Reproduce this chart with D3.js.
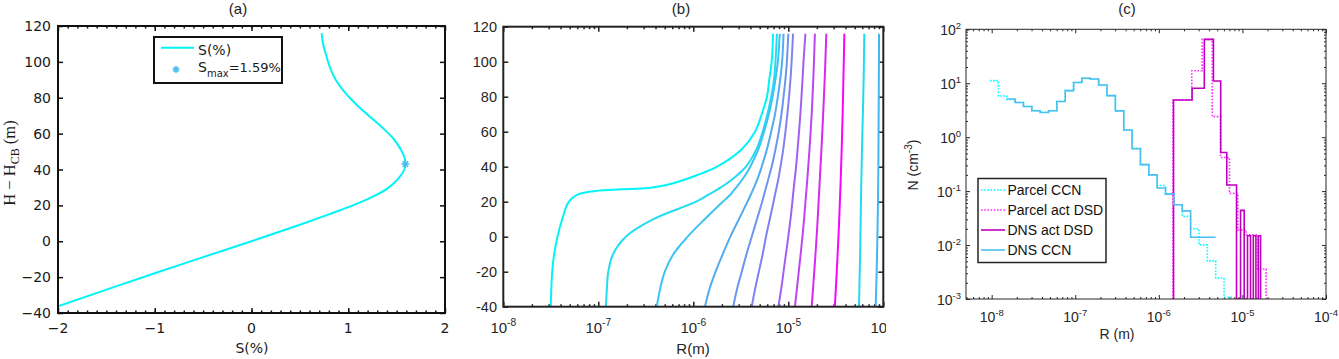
<!DOCTYPE html>
<html>
<head>
<meta charset="utf-8">
<script src="https://cdn.jsdelivr.net/npm/d3@7"></script>
<style>
  body { margin: 0; background: #fff; }
  svg { display: block; }
</style>
</head>
<body>
<script>
// ---------------- data ----------------
// panel (a): supersaturation profile
var sPercent = [-2.0, -1.0, 0.0, 0.5, 0.8, 1.0, 1.2, 1.4, 1.52, 1.58, 1.59, 1.585, 1.55, 1.47, 1.35, 1.2, 1.06, 0.95, 0.87, 0.81, 0.77, 0.74, 0.725];
var sHeight = [-36.3, -17.8, 0.0, 9.2, 15.0, 19.0, 23.5, 29.2, 35.0, 40.0, 43.0, 46.0, 50.5, 57.0, 63.5, 70.5, 77.5, 84.0, 90.0, 97.0, 104.0, 110.0, 116.0];
var sMax = 1.59, sMaxHeight = 43;
var aXTicks = [-2, -1, 0, 1, 2];
var aYTicks = [-40, -20, 0, 20, 40, 60, 80, 100, 120];

// panel (b): droplet radius (log10 R, m) vs height, one array per trajectory
var bHeights = [-40, -30, -20, -10, 0, 10, 20, 24, 26, 28, 30, 35, 40, 50, 60, 70, 80, 90, 100, 116];
var bLine1 = [-7.50, -7.495, -7.485, -7.465, -7.43, -7.38, -7.31, -7.22, -7.05, -6.45, -6.25, -5.97, -5.75, -5.49, -5.35, -5.28, -5.225, -5.20, -5.175, -5.16];
var bLine2 = [-6.92, -6.91, -6.895, -6.845, -6.71, -6.42, -5.97, -5.84, -5.775, -5.715, -5.66, -5.54, -5.445, -5.335, -5.27, -5.22, -5.18, -5.15, -5.135, -5.12];
var bLine3 = [-6.385, -6.35, -6.30, -6.21, -6.06, -5.88, -5.69, -5.61, -5.58, -5.55, -5.52, -5.455, -5.40, -5.315, -5.255, -5.205, -5.165, -5.135, -5.11, -5.09];
var bLine4 = [-5.877, -5.83, -5.765, -5.69, -5.61, -5.52, -5.43, -5.395, -5.378, -5.362, -5.347, -5.31, -5.28, -5.225, -5.18, -5.14, -5.11, -5.085, -5.065, -5.05];
var bLine5 = [-5.58, -5.54, -5.49, -5.44, -5.385, -5.33, -5.275, -5.255, -5.245, -5.235, -5.225, -5.20, -5.175, -5.135, -5.10, -5.072, -5.05, -5.03, -5.015, -5.0];
var bLine6 = [-5.385, -5.35, -5.31, -5.27, -5.235, -5.195, -5.155, -5.14, -5.132, -5.124, -5.116, -5.098, -5.082, -5.053, -5.03, -5.01, -4.992, -4.977, -4.965, -4.95];
var bLine7 = [-5.105, -5.075, -5.05, -5.025, -5.0, -4.977, -4.957, -4.95, -4.946, -4.942, -4.938, -4.928, -4.918, -4.902, -4.887, -4.873, -4.861, -4.85, -4.84, -4.82];
var bLine8 = [-4.93, -4.91, -4.89, -4.87, -4.851, -4.834, -4.819, -4.813, -4.81, -4.807, -4.804, -4.797, -4.79, -4.777, -4.765, -4.754, -4.745, -4.737, -4.73, -4.72];
var bLine9 = [-4.754, -4.74, -4.727, -4.714, -4.702, -4.691, -4.681, -4.677, -4.675, -4.673, -4.671, -4.666, -4.661, -4.651, -4.642, -4.633, -4.625, -4.617, -4.61, -4.60];
var bLine10 = [-4.51, -4.50, -4.49, -4.481, -4.472, -4.464, -4.457, -4.454, -4.453, -4.451, -4.45, -4.447, -4.444, -4.438, -4.433, -4.428, -4.424, -4.42, -4.416, -4.41];
var bLine11 = [-4.256, -4.252, -4.248, -4.244, -4.241, -4.238, -4.235, -4.234, -4.233, -4.233, -4.232, -4.23, -4.228, -4.224, -4.22, -4.215, -4.211, -4.207, -4.204, -4.20];
var bLine12 = [-4.08, -4.075, -4.07, -4.066, -4.062, -4.059, -4.056, -4.055, -4.055, -4.054, -4.054, -4.053, -4.052, -4.051, -4.05, -4.049, -4.048, -4.047, -4.046, -4.045];
var bColors = ["#00f4f8", "#22dcf4", "#3cc4f2", "#52acf2", "#6a96f2", "#8480f2", "#a060f2", "#bc44f2", "#d828f2", "#ff00ff", "#1edcf0", "#42b6ee"];
var bXTicks = [1e-8, 1e-7, 1e-6, 1e-5, 1e-4];
var bXTickLabels = ["-8", "-7", "-6", "-5", "-4"];
var bYTicks = [-40, -20, 0, 20, 40, 60, 80, 100, 120];

// panel (c): size distributions
var ccnEdgeExp = [-8.02, -7.92, -7.82, -7.72, -7.62, -7.52, -7.42, -7.32, -7.22, -7.12, -7.02, -6.92, -6.82, -6.72, -6.62,
                  -6.52, -6.42, -6.32, -6.22, -6.12, -6.02, -5.92, -5.82, -5.72, -5.62, -5.52, -5.42, -5.32, -5.22, -5.12];
var parcelCcn = [11.2, 5.8, 5.0, 4.4, 3.7, 3.1, 2.9, 3.1, 4.6, 7.3, 10.3, 12.3, 12.0, 9.3, 5.9, 3.07, 1.36, 0.62,
                 0.31, 0.2, 0.127, 0.088, 0.056, 0.034, 0.02, 0.0101, 0.0051, 0.00245, 0.00108];
var dnsCcn = [null, null, 5.1, 4.4, 3.7, 3.1, 2.86, 3.1, 4.6, 7.3, 10.3, 12.4, 12.0, 9.3, 5.9, 3.07, 1.36, 0.61,
              0.31, 0.2, 0.114, 0.088, 0.056, 0.043, 0.014, 0.014, 0.014, null, null];
var parcelActEdges = [1.47e-6, 2.48e-6, 3.30e-6, 4.36e-6, 5.47e-6, 7.0e-6, 8.81e-6, 1.11e-5, 1.52e-5, 1.92e-5];
var parcelAct = [4.9, 17, 65, 2.4, 0.42, 0.091, 0.019, 0.0155, 0.0036];
var dnsActEdges = [1.5e-6, 2.5e-6, 3.5e-6, 4.5e-6, 5.5e-6, 6.5e-6, 7.5e-6, 8.5e-6, 9.5e-6, 10.5e-6, 11.5e-6, 12.5e-6, 13.5e-6, 14.5e-6, 15.5e-6, 16.5e-6];
var dnsAct = [4.9, 8.1, 65, 11, 0.52, 0.13, 0.13, 0, 0.044, 0, 0.0149, 0, 0.0149, 0, 0.0149];
var cXTicks = [1e-8, 1e-7, 1e-6, 1e-5, 1e-4];
var cXTickLabels = ["-8", "-7", "-6", "-5", "-4"];
var cYTicks = [1e-3, 1e-2, 1e-1, 1e0, 1e1, 1e2];
var cYTickLabels = ["-3", "-2", "-1", "0", "1", "2"];
var cLegend = ["Parcel CCN", "Parcel act DSD", "DNS act DSD", "DNS CCN"];

// ---------------- helpers ----------------
var svg = d3.select("body").append("svg")
    .attr("width", 1339)
    .attr("height", 359);

var defs = svg.append("defs");

function clipRect(id, x, y, w, h) {
    defs.append("clipPath").attr("id", id)
        .append("rect").attr("x", x).attr("y", y).attr("width", w).attr("height", h);
    return "url(#" + id + ")";
}

function tickSet(g, axisFn, values, size, transform, color, width) {
    g.append("g")
        .attr("transform", transform)
        .call(axisFn.tickValues(values).tickSize(-size).tickFormat(""))
        .call(function (s) {
            s.select(".domain").remove();
            s.selectAll("line").attr("stroke", color).attr("stroke-width", width);
        });
}

function minorLog(lo, hi) {
    var out = [];
    for (var e = Math.floor(Math.log10(lo)); e < Math.log10(hi); e++) {
        for (var k = 2; k <= 9; k++) {
            var v = k * Math.pow(10, e);
            if (v > lo && v < hi) out.push(v);
        }
    }
    return out;
}

function supLabel(g, x, y, exp, anchor, size) {
    var t = g.append("text")
        .attr("x", x).attr("y", y)
        .attr("text-anchor", anchor)
        .attr("font-size", size);
    t.append("tspan").text("10");
    t.append("tspan").attr("dy", -size * 0.45).attr("font-size", size * 0.68).text(exp);
}

// ---------------- panel (a) ----------------
var xA = d3.scaleLinear().domain([-2, 2]).range([58, 445]);
var yA = d3.scaleLinear().domain([-40, 120]).range([313, 26]);
var gA = svg.append("g").attr("font-family", "DejaVu Sans").attr("fill", "#1a1a1a");

var aMinor = d3.range(-19, 20).map(function (d) { return d / 10; });
tickSet(gA, d3.axisBottom(xA), aXTicks, 5, "translate(0,313)", "#111", 1.5);
tickSet(gA, d3.axisTop(xA), aXTicks, 5, "translate(0,26)", "#111", 1.5);
tickSet(gA, d3.axisBottom(xA), aMinor, 2.5, "translate(0,313)", "#111", 1.5);
tickSet(gA, d3.axisTop(xA), aMinor, 2.5, "translate(0,26)", "#111", 1.5);
tickSet(gA, d3.axisLeft(yA), aYTicks, 5, "translate(58,0)", "#111", 1.5);
tickSet(gA, d3.axisRight(yA), aYTicks, 5, "translate(445,0)", "#111", 1.5);

gA.selectAll(".axl").data(aXTicks).enter().append("text")
    .attr("x", function (d) { return xA(d); })
    .attr("y", 333)
    .attr("text-anchor", "middle")
    .attr("font-size", 14)
    .text(function (d) { return d < 0 ? "\u2212" + Math.abs(d) : d; });

gA.selectAll(".ayl").data(aYTicks).enter().append("text")
    .attr("x", 51)
    .attr("y", function (d) { return yA(d) + 5; })
    .attr("text-anchor", "end")
    .attr("font-size", 14)
    .text(function (d) { return d < 0 ? "\u2212" + Math.abs(d) : d; });

var aPts = sPercent.map(function (s, i) { return [s, sHeight[i]]; });
gA.append("path")
    .datum(aPts)
    .attr("clip-path", clipRect("clipA", 58, 26, 387, 287))
    .attr("fill", "none")
    .attr("stroke", "#00f4f8")
    .attr("stroke-width", 2)
    .attr("d", d3.line()
        .x(function (d) { return xA(d[0]); })
        .y(function (d) { return yA(d[1]); })
        .curve(d3.curveCatmullRom.alpha(0.5)));

function asterisk(g, cx, cy, r, color) {
    var d = "M" + (cx - r) + "," + cy + "H" + (cx + r) +
        "M" + cx + "," + (cy - r) + "V" + (cy + r) +
        "M" + (cx - r * 0.7) + "," + (cy - r * 0.7) + "L" + (cx + r * 0.7) + "," + (cy + r * 0.7) +
        "M" + (cx - r * 0.7) + "," + (cy + r * 0.7) + "L" + (cx + r * 0.7) + "," + (cy - r * 0.7);
    g.append("path").attr("d", d).attr("stroke", color).attr("stroke-width", 1.5).attr("fill", "none");
}
asterisk(gA, xA(sMax), yA(sMaxHeight), 4, "#4dbeee");

gA.append("rect")
    .attr("x", 58).attr("y", 26).attr("width", 387).attr("height", 287)
    .attr("fill", "none").attr("stroke", "#111").attr("stroke-width", 2);

// legend (a)
gA.append("rect")
    .attr("x", 154).attr("y", 37).attr("width", 128).attr("height", 46)
    .attr("fill", "#fff").attr("stroke", "#111").attr("stroke-width", 2);
gA.append("line")
    .attr("x1", 161).attr("x2", 194).attr("y1", 47.7).attr("y2", 47.7)
    .attr("stroke", "#00f4f8").attr("stroke-width", 2);
gA.append("text").attr("x", 198).attr("y", 55).attr("font-size", 14).text("S(%)");
asterisk(gA, 176, 69.5, 3.5, "#4dbeee");
var smaxText = gA.append("text").attr("x", 198).attr("y", 72).attr("font-size", 14);
smaxText.append("tspan").text("S");
smaxText.append("tspan").attr("dy", 5).attr("font-size", 10).text("max");
smaxText.append("tspan").attr("dy", -5).attr("font-size", 13).text("=1.59%");

gA.append("text")
    .attr("x", 238).attr("y", 14)
    .attr("text-anchor", "middle")
    .attr("font-family", "Liberation Sans")
    .attr("font-size", 15)
    .text("(a)");
gA.append("text")
    .attr("x", 252).attr("y", 353)
    .attr("text-anchor", "middle")
    .attr("font-size", 14)
    .text("S(%)");
var aYLabel = gA.append("text")
    .attr("transform", "translate(15,163) rotate(-90)")
    .attr("text-anchor", "middle")
    .attr("font-family", "Liberation Serif")
    .attr("font-size", 16.5);
aYLabel.append("tspan").text("H \u2212 H");
aYLabel.append("tspan").attr("dy", 3.5).attr("font-size", 12).text("CB");
aYLabel.append("tspan").attr("dy", -3.5).text(" (m)");

// ---------------- panel (b) ----------------
var xB = d3.scaleLog().domain([1e-8, 1e-4]).range([503.3, 883.3]);
var yB = d3.scaleLinear().domain([-40, 120]).range([306.7, 26.7]);
var gB = svg.append("g")
    .attr("font-family", "Liberation Sans")
    .attr("fill", "#262626")
    .attr("clip-path", clipRect("clipB", 446, 0, 440, 359));

var bMinor = minorLog(1e-8, 1e-4);
tickSet(gB, d3.axisBottom(xB), bXTicks, 5, "translate(0,306.7)", "#222", 1.5);
tickSet(gB, d3.axisTop(xB), bXTicks, 5, "translate(0,26.7)", "#222", 1.5);
tickSet(gB, d3.axisBottom(xB), bMinor, 2.5, "translate(0,306.7)", "#222", 1.5);
tickSet(gB, d3.axisTop(xB), bMinor, 2.5, "translate(0,26.7)", "#222", 1.5);
tickSet(gB, d3.axisLeft(yB), bYTicks, 5, "translate(503.3,0)", "#222", 1.5);
tickSet(gB, d3.axisRight(yB), bYTicks, 5, "translate(883.3,0)", "#222", 1.5);

bXTicks.forEach(function (v, i) {
    supLabel(gB, xB(v), 333, bXTickLabels[i], "middle", 15);
});
gB.selectAll(".byl").data(bYTicks).enter().append("text")
    .attr("x", 497)
    .attr("y", function (d) { return yB(d) + 5; })
    .attr("text-anchor", "end")
    .attr("font-size", 14.5)
    .text(function (d) { return d; });

var bLines = [bLine1, bLine2, bLine3, bLine4, bLine5, bLine6, bLine7, bLine8, bLine9, bLine10, bLine11, bLine12];
var bLineGen = d3.line()
    .x(function (d) { return xB(Math.pow(10, d[0])); })
    .y(function (d) { return yB(d[1]); })
    .curve(d3.curveCatmullRom.alpha(0.5));
var bPlot = gB.append("g").attr("clip-path", clipRect("clipB2", 503.3, 26.7, 380, 280));
bPlot.selectAll(".rline")
    .data(bLines)
    .enter()
    .append("path")
    .attr("class", "rline")
    .attr("fill", "none")
    .attr("stroke", function (d, i) { return bColors[i]; })
    .attr("stroke-width", 2)
    .attr("d", function (d) {
        return bLineGen(d.map(function (r, j) { return [r, bHeights[j]]; }));
    });

gB.append("rect")
    .attr("x", 503.3).attr("y", 26.7).attr("width", 380).attr("height", 280)
    .attr("fill", "none").attr("stroke", "#222").attr("stroke-width", 2);

gB.append("text")
    .attr("x", 681).attr("y", 14)
    .attr("text-anchor", "middle")
    .attr("font-size", 15)
    .text("(b)");
gB.append("text")
    .attr("x", 693).attr("y", 354)
    .attr("text-anchor", "middle")
    .attr("font-size", 15)
    .text("R(m)");

// ---------------- panel (c) ----------------
var xC = d3.scaleLog().domain([4.93e-9, 1e-4]).range([966, 1326]);
var yC = d3.scaleLog().domain([1e-3, 1e2]).range([299, 29.3]);
var gC = svg.append("g").attr("font-family", "Liberation Sans").attr("fill", "#262626");

var cXMinor = minorLog(4.93e-9, 1e-4);
var cYMinor = minorLog(1e-3, 1e2);
tickSet(gC, d3.axisBottom(xC), cXTicks, 4, "translate(0,299)", "#262626", 1);
tickSet(gC, d3.axisTop(xC), cXTicks, 4, "translate(0,29.3)", "#262626", 1);
tickSet(gC, d3.axisBottom(xC), cXMinor, 2, "translate(0,299)", "#262626", 1);
tickSet(gC, d3.axisTop(xC), cXMinor, 2, "translate(0,29.3)", "#262626", 1);
tickSet(gC, d3.axisLeft(yC), cYTicks, 4, "translate(966,0)", "#262626", 1);
tickSet(gC, d3.axisRight(yC), cYTicks, 4, "translate(1326,0)", "#262626", 1);
tickSet(gC, d3.axisLeft(yC), cYMinor, 2, "translate(966,0)", "#262626", 1);
tickSet(gC, d3.axisRight(yC), cYMinor, 2, "translate(1326,0)", "#262626", 1);

cXTicks.forEach(function (v, i) {
    supLabel(gC, xC(v), 322, cXTickLabels[i], "middle", 14);
});
cYTicks.forEach(function (v, i) {
    supLabel(gC, 961, yC(v) + 6, cYTickLabels[i], "end", 14);
});

function stairs(edges, vals, drop) {
    var pts = [];
    var last = -1;
    vals.forEach(function (v, i) {
        if (v == null) return;
        if (pts.length === 0 && drop) pts.push([edges[i], 0]);
        pts.push([edges[i], v], [edges[i + 1], v]);
        last = i;
    });
    if (drop) pts.push([edges[last + 1], 0]);
    return pts;
}

var cLine = d3.line()
    .x(function (d) { return xC(d[0]); })
    .y(function (d) { return d[1] > 0 ? yC(d[1]) : yC.range()[0]; });

var ccnEdges = ccnEdgeExp.map(function (e) { return Math.pow(10, e); });
var cPlot = gC.append("g").attr("clip-path", clipRect("clipC", 966, 29.3, 360, 269.7));

var cSeries = [
    { pts: stairs(ccnEdges, parcelCcn, false), color: "#00ffff", dash: "1.6,1.6" },
    { pts: stairs(parcelActEdges, parcelAct, true), color: "#ff2cff", dash: "1.6,1.6" },
    { pts: stairs(dnsActEdges, dnsAct, true), color: "#bf00bf", dash: null },
    { pts: stairs(ccnEdges, dnsCcn, false), color: "#4dbeee", dash: null }
];
cSeries.forEach(function (s) {
    cPlot.append("path")
        .datum(s.pts)
        .attr("fill", "none")
        .attr("stroke", s.color)
        .attr("stroke-width", 1.6)
        .attr("stroke-dasharray", s.dash)
        .attr("d", cLine);
});

gC.append("rect")
    .attr("x", 966).attr("y", 29.3).attr("width", 360).attr("height", 269.7)
    .attr("fill", "none").attr("stroke", "#262626").attr("stroke-width", 1);

// legend (c)
gC.append("rect")
    .attr("x", 978).attr("y", 178.5).attr("width", 128).attr("height", 84)
    .attr("fill", "#fff").attr("stroke", "#262626").attr("stroke-width", 1.5);
cLegend.forEach(function (name, i) {
    var y = 190 + i * 20;
    gC.append("line")
        .attr("x1", 981).attr("x2", 1005).attr("y1", y).attr("y2", y)
        .attr("stroke", cSeries[i].color)
        .attr("stroke-width", 1.6)
        .attr("stroke-dasharray", cSeries[i].dash);
    gC.append("text")
        .attr("x", 1007.5).attr("y", y + 5)
        .attr("font-size", 14)
        .attr("fill", "#111")
        .text(name);
});

gC.append("text")
    .attr("x", 1127).attr("y", 14)
    .attr("text-anchor", "middle")
    .attr("font-size", 15)
    .text("(c)");
gC.append("text")
    .attr("x", 1117).attr("y", 339)
    .attr("text-anchor", "middle")
    .attr("font-size", 14)
    .text("R (m)");
var cYLabel = gC.append("text")
    .attr("transform", "translate(918,165) rotate(-90)")
    .attr("text-anchor", "middle")
    .attr("font-size", 14);
cYLabel.append("tspan").text("N (cm");
cYLabel.append("tspan").attr("dy", -6).attr("font-size", 10).text("-3");
cYLabel.append("tspan").attr("dy", 6).text(")");
</script>
</body>
</html>
